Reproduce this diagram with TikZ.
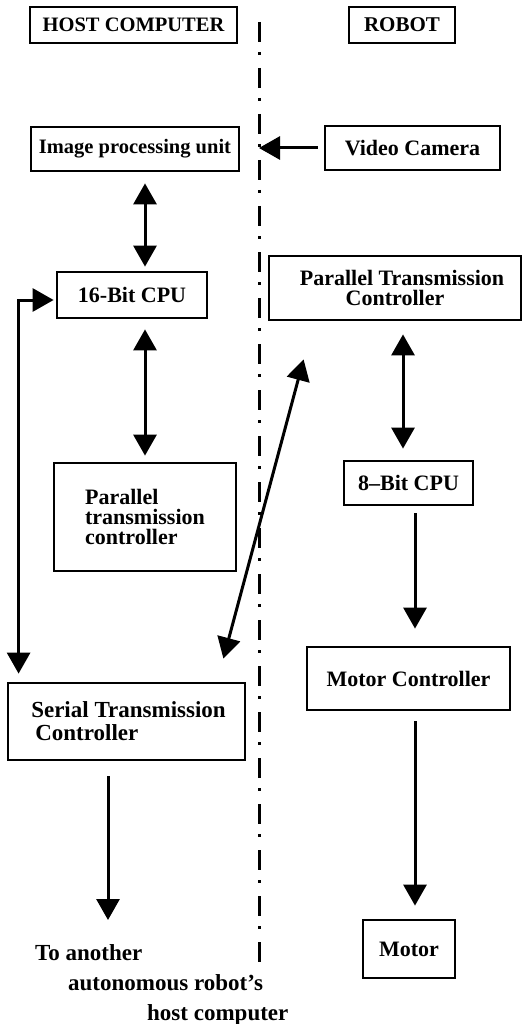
\documentclass[tikz,border=0pt]{standalone}
\usepackage{fontspec}
\setmainfont{Liberation Serif}
\usetikzlibrary{arrows.meta,calc}
\begin{document}
\begin{tikzpicture}[x=1pt,y=-1pt,
  box/.style={draw, line width=2.8pt, inner sep=0pt, font=\bfseries\fontsize{22}{20}\selectfont},
  conn/.style={line width=3pt, -{Triangle[length=21pt,width=23pt]}},
  both/.style={line width=3pt, {Triangle[length=21pt,width=23pt]}-{Triangle[length=21pt,width=23pt]}},
  lbl/.style={inner sep=0pt, anchor=base west, font=\bfseries\fontsize{23}{28}\selectfont},
  divider/.style={line width=3pt, dash pattern=on 20pt off 10pt on 3pt off 13pt}]
\useasboundingbox (0,0) rectangle (527,1024);

% boxes
\node[box, minimum width=207pt, minimum height=36pt] (host) at (133.5,25) {\fontsize{20.5}{20}\selectfont HOST COMPUTER};
\node[box, minimum width=106pt, minimum height=36pt] (robot) at (402,25) {\fontsize{21}{20}\selectfont ROBOT};
\node[box, minimum width=208pt, minimum height=44pt] (ipu) at (135,149) {\fontsize{20.5}{20}\selectfont Image processing unit};
\node[box, minimum width=175pt, minimum height=44pt] (cam) at (412.5,148) {Video Camera};
\node[box, minimum width=150pt, minimum height=46pt] (cpu16) at (132,295) {16-Bit CPU};
\node[box, minimum width=252pt, minimum height=64pt, align=center, font=\bfseries\fontsize{22}{20}\selectfont] (ptcr) at (395,288) {\hspace*{14pt}Parallel Transmission\\Controller};
\node[box, minimum width=182pt, minimum height=108pt, align=left, font=\bfseries\fontsize{22}{20}\selectfont] (ptch) at (145,517) {Parallel\\transmission\\controller};
\node[box, minimum width=129pt, minimum height=44pt] (cpu8) at (408.5,483) {8–Bit CPU};
\node[box, minimum width=203pt, minimum height=63pt] (mc) at (408.5,678.5) {Motor Controller};
\node[box, minimum width=237pt, minimum height=77pt, align=left, font=\bfseries\fontsize{23}{23}\selectfont] (stc) at (126.5,721.5) {\hspace*{4pt}Serial Transmission\\\hspace*{8pt}Controller};
\node[box, minimum width=92pt, minimum height=58pt] (motor) at (409,949) {Motor};

% bottom label
\node[lbl] (to1) at (35,960) {To another};
\node[lbl] (to2) at (68,990) {autonomous robot’s};
\node[lbl] (to3) at (147,1020) {host computer};

% divider
\coordinate (divtop) at (259,22);
\coordinate (divbot) at (259,963);
\coordinate (divpt) at (259,148);
\draw[divider] (divtop) -- (divbot);

% connectors
\draw[conn, shorten <=6pt] (cam.west) -- (divpt);
\draw[both, shorten <=11pt, shorten >=4pt] ($(ipu.south)+(10,0)$) -- ($(cpu16.north)+(13,0)$);
\draw[both, shorten <=10pt, shorten >=6pt] ($(cpu16.south)+(13,0)$) -- ($(ptch.north)+(0,0)$);
\draw[both, shorten <=13pt, shorten >=11pt] ($(ptcr.south)+(8,0)$) -- ($(cpu8.north)+(-5.5,0)$);
\draw[conn, shorten <=7pt, shorten >=17pt] ($(cpu8.south)+(6.5,0)$) -- ($(mc.north)+(6.5,0)$);
\draw[conn, shorten <=10pt, shorten >=13pt] ($(mc.south)+(6.5,0)$) -- ($(motor.north)+(6,0)$);
\coordinate (stcend) at (108,920);
\draw[conn, shorten <=15pt] ($(stc.south)+(-18.5,0)$) -- (stcend);
\draw[both] ($(cpu16.west)+(-2,5)$) -| ($(stc.north west)+(12,-8)$);
\draw[both] ($(stc.north east)+(-23,-23)$) -- ($(ptcr.south west)+(36,38)$);
\end{tikzpicture}
\end{document}
